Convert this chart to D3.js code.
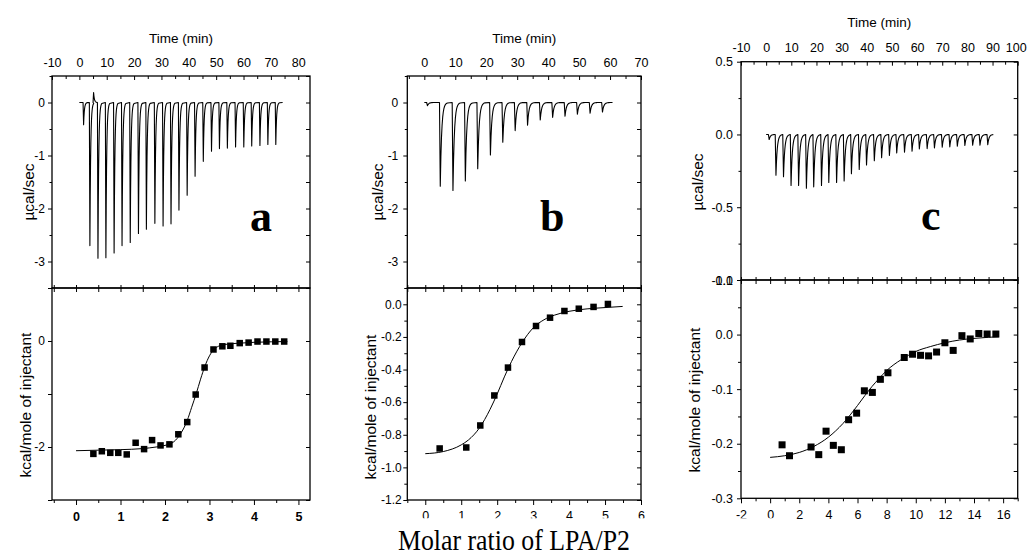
<!DOCTYPE html>
<html><head><meta charset="utf-8">
<script src="https://cdn.jsdelivr.net/npm/d3@7"></script>
<style>
body{margin:0;background:#fff}
svg{display:block}
</style></head><body>
<svg id="chart" width="1027" height="558"></svg>
<script>
// ================= DATA =================
// Panel a – raw ITC trace: injection times (min) and peak heights (µcal/sec)
const aTraceRange = [0, 74.3];
const aInjTime = [1.35, 3.65, 5.0, 6.6, 9.5, 12.5, 15.4, 18.4, 21.4, 24.3, 27.4, 30.4, 33.3, 36.2, 39.2, 42.1, 45.1, 48.1, 51.0, 53.9, 56.9, 59.9, 62.8, 65.8, 68.7, 71.6];
const aInjPeak = [-0.42, -2.70, 0.19, -2.94, -2.93, -2.84, -2.70, -2.64, -2.47, -2.39, -2.28, -2.33, -2.29, -2.03, -1.75, -1.39, -1.11, -0.92, -0.87, -0.86, -0.84, -0.84, -0.82, -0.81, -0.79, -0.79];
// Panel a – integrated heats
const aRatio = [0.39, 0.58, 0.77, 0.95, 1.14, 1.34, 1.53, 1.71, 1.90, 2.10, 2.30, 2.50, 2.69, 2.89, 3.09, 3.29, 3.47, 3.68, 3.88, 4.08, 4.28, 4.48, 4.68];
const aHeat  = [-2.13, -2.08, -2.11, -2.11, -2.14, -1.92, -2.04, -1.87, -1.97, -1.95, -1.76, -1.53, -1.01, -0.50, -0.16, -0.10, -0.09, -0.04, -0.03, -0.01, -0.01, -0.01, -0.01];
const aFitX  = [0.0, 0.5, 1.0, 1.5, 1.8, 2.0, 2.2, 2.35, 2.5, 2.6, 2.7, 2.8, 2.9, 3.0, 3.1, 3.2, 3.4, 3.7, 4.0, 4.4, 4.75];
const aFitY  = [-2.07, -2.06, -2.05, -2.03, -2.0, -1.97, -1.9, -1.75, -1.5, -1.25, -1.0, -0.72, -0.47, -0.28, -0.16, -0.1, -0.06, -0.04, -0.025, -0.015, -0.01];

// Panel b
const bTraceRange = [0, 60.8];
const bInjTime = [0.75, 4.9, 9.0, 13.0, 17.0, 21.1, 25.1, 29.1, 33.1, 37.2, 41.2, 45.2, 49.2, 53.3, 57.3];
const bInjPeak = [-0.06, -1.58, -1.66, -1.48, -1.25, -0.99, -0.75, -0.53, -0.43, -0.33, -0.28, -0.26, -0.22, -0.20, -0.18];
const bRatio = [0.40, 1.14, 1.53, 1.92, 2.30, 2.69, 3.08, 3.47, 3.87, 4.27, 4.68, 5.08];
const bHeat  = [-0.884, -0.878, -0.743, -0.559, -0.388, -0.231, -0.133, -0.082, -0.041, -0.027, -0.016, 0.002];
const bFitX  = [0, 0.5, 1.0, 1.2, 1.5, 1.8, 2.0, 2.2, 2.4, 2.7, 3.0, 3.3, 3.6, 4.0, 4.5, 5.0, 5.49];
const bFitY  = [-0.916, -0.903, -0.862, -0.832, -0.76, -0.645, -0.55, -0.445, -0.35, -0.232, -0.145, -0.095, -0.066, -0.043, -0.028, -0.02, -0.013];

// Panel c
const cTraceRange = [0, 90.3];
const cInjTime = [0.9, 3.6, 6.6, 9.6, 12.6, 15.7, 18.6, 21.7, 24.6, 27.7, 30.7, 33.6, 36.7, 39.6, 42.7, 45.6, 48.7, 51.6, 54.7, 57.7, 60.6, 63.7, 66.6, 69.7, 72.7, 75.7, 78.7, 81.8, 84.7, 87.8];
const cInjPeak = [-0.035, -0.28, -0.29, -0.35, -0.35, -0.37, -0.36, -0.35, -0.33, -0.33, -0.32, -0.27, -0.24, -0.21, -0.18, -0.16, -0.145, -0.127, -0.122, -0.115, -0.10, -0.097, -0.092, -0.088, -0.085, -0.08, -0.076, -0.074, -0.074, -0.07];
const cRatio = [0.82, 1.33, 2.81, 3.34, 3.84, 4.34, 4.89, 5.39, 5.94, 6.47, 7.02, 7.57, 8.09, 9.21, 9.78, 10.33, 10.88, 11.43, 12.0, 12.57, 13.17, 13.74, 14.33, 14.9, 15.5];
const cHeat  = [-0.202, -0.222, -0.206, -0.220, -0.177, -0.203, -0.211, -0.156, -0.144, -0.103, -0.106, -0.082, -0.070, -0.042, -0.036, -0.038, -0.039, -0.032, -0.015, -0.029, -0.002, -0.008, 0.002, 0.001, 0.001];
const cFitX  = [0, 1, 2, 3, 4, 5, 6, 6.5, 7, 7.5, 8, 8.5, 9, 9.5, 10, 11, 12, 13, 14, 15, 15.7];
const cFitY  = [-0.225, -0.222, -0.216, -0.205, -0.188, -0.163, -0.13, -0.112, -0.095, -0.08, -0.066, -0.055, -0.046, -0.038, -0.031, -0.022, -0.015, -0.01, -0.007, -0.005, -0.004];

// Tick labels
const aTimeTicks  = [-10, 0, 10, 20, 30, 40, 50, 60, 70, 80];
const aRawTicks   = [0, -1, -2, -3];
const aRatioTicks = [0, 1, 2, 3, 4, 5];
const aHeatTicks  = [0, -2];
const bTimeTicks  = [0, 10, 20, 30, 40, 50, 60, 70];
const bRawTicks   = [0, -1, -2, -3];
const bRatioTicks = [0, 1, 2, 3, 4, 5, 6];
const bHeatTicks  = [0, -0.2, -0.4, -0.6, -0.8, -1.0, -1.2];
const cTimeTicks  = [-10, 0, 10, 20, 30, 40, 50, 60, 70, 80, 90, 100];
const cRawTicks   = [0.5, 0.0, -0.5, -1.0];
const cRatioTicks = [-2, 0, 2, 4, 6, 8, 10, 12, 14, 16];
const cHeatTicks  = [0.1, 0.0, -0.1, -0.2, -0.3];

const panelLetters = ["a", "b", "c"];
const timeTitle = "Time (min)";
const rawTitle = "\u00b5cal/sec";
const heatTitle = "kcal/mole of injectant";
const xTitle = "Molar ratio of LPA/P2";

// ================= DRAWING =================
const svg = d3.select("#chart");
const NARROW = "'Liberation Sans Narrow','Arial Narrow','Liberation Sans',Arial,sans-serif";
const SANS = "'Liberation Sans',Arial,Helvetica,sans-serif";
const SERIF = "'Liberation Serif','Times New Roman',Times,serif";

const fInt = d => String(d).replace("\u2212", "-");
const f1 = d => d3.format(".1f")(d).replace("\u2212", "-");

const defs = svg.append("defs");
defs.append("clipPath").attr("id", "cutB").append("rect")
  .attr("x", 380).attr("y", 0).attr("width", 280).attr("height", 518.3);
defs.append("clipPath").attr("id", "cutC").append("path")
  .attr("d", "M700,0 H1027 V558 H792 V518.3 H700 Z");

// build a trace (time, signal) from injection times/peaks; spike shape is a style
function buildTrace(range, times, peaks, fall, tau, len) {
  const pts = [[range[0], 0]];
  times.forEach((t, i) => {
    const p = peaks[i];
    pts.push([t, 0]);
    pts.push([t + fall, p]);
    const n = 12;
    for (let k = 1; k <= n; k++) {
      const dt = k * (len - fall) / n;
      pts.push([t + fall + dt, p * Math.exp(-dt / tau)]);
    }
  });
  pts.push([range[1], 0]);
  return pts;
}

function styleAxis(sel, font, size, weight) {
  sel.select(".domain").remove();
  sel.attr("font-family", font).attr("font-size", size).attr("font-weight", weight || "normal");
  sel.selectAll("line").attr("stroke", "#000").attr("stroke-width", 1);
}

function minorVals(domain, step, major) {
  const out = [];
  const lo = Math.ceil(domain[0] / step - 1e-9), hi = Math.floor(domain[1] / step + 1e-9);
  for (let k = lo; k <= hi; k++) {
    const v = +(k * step).toFixed(6);
    if (!major.some(m => Math.abs(m - v) < 1e-9)) out.push(v);
  }
  return out;
}

function drawPanel(c) {
  const g = svg.append("g");
  const xt = d3.scaleLinear().domain(c.tDom).range([c.L, c.R]);
  const yr = d3.scaleLinear().domain(c.rDom).range([c.M, c.T]);
  const xm = d3.scaleLinear().domain(c.mDom).range([c.L, c.R]);
  const yh = d3.scaleLinear().domain(c.hDom).range([c.B, c.M]);

  const tMinor = minorVals(c.tDom, c.tStep, c.tTicks);
  const rMinor = minorVals(c.rDom, c.rStep, c.rTicks);
  const rAll = minorVals(c.rDom, c.rStep, []);
  const mMinor = minorVals(c.mDom, c.mStep, c.mTicks);
  const mAll = minorVals(c.mDom, c.mStep, []);
  const hMinor = minorVals(c.hDom, c.hStep, c.hTicks);
  const hAll = minorVals(c.hDom, c.hStep, []);

  // ---- top (raw) panel axes ----
  const topAx = g.append("g").attr("transform", `translate(0,${c.T})`)
    .call(d3.axisTop(xt).tickValues(c.tTicks).tickSize(-4).tickPadding(c.tPad).tickFormat(fInt))
    .call(s => styleAxis(s, NARROW, c.tickFont, "normal"));
  // keep the last label inside the picture
  topAx.selectAll("text").filter(d => xt(d) > 1010).attr("dx", -2);
  g.append("g").attr("transform", `translate(0,${c.T})`)
    .call(d3.axisTop(xt).tickValues(tMinor).tickSize(-3).tickFormat(""))
    .call(s => styleAxis(s, NARROW, c.tickFont));
  g.append("g").attr("transform", `translate(${c.L},0)`)
    .call(d3.axisLeft(yr).tickValues(c.rTicks).tickSize(4).tickPadding(c.yPadR).tickFormat(c.rFmt))
    .call(s => styleAxis(s, SANS, c.yFont));
  g.append("g").attr("transform", `translate(${c.L},0)`)
    .call(d3.axisLeft(yr).tickValues(rMinor).tickSize(2.5).tickFormat(""))
    .call(s => styleAxis(s, SANS, c.yFont));
  g.append("g").attr("transform", `translate(${c.R},0)`)
    .call(d3.axisRight(yr).tickValues(rAll).tickSize(-4).tickFormat(""))
    .call(s => styleAxis(s, SANS, c.yFont));

  // ---- bottom (heat) panel axes ----
  g.append("g").attr("transform", `translate(0,${c.M})`)
    .call(d3.axisBottom(xm).tickValues(mAll).tickSize(4).tickFormat(""))
    .call(s => styleAxis(s, SANS, 10));
  g.append("g").attr("transform", `translate(0,${c.M})`)
    .call(d3.axisTop(xm).tickValues(mAll).tickSize(3).tickFormat(""))
    .call(s => styleAxis(s, SANS, 10));
  const bAx = g.append("g").attr("clip-path", c.clip ? `url(#${c.clip})` : null)
    .append("g").attr("transform", `translate(0,${c.B})`);
  bAx.call(d3.axisBottom(xm).tickValues(c.mTicks).tickSize(5).tickPadding(c.mPad).tickFormat(fInt))
    .call(s => styleAxis(s, NARROW, c.tickFont, c.mBold ? "bold" : "normal"));
  g.append("g").attr("transform", `translate(0,${c.B})`)
    .call(d3.axisBottom(xm).tickValues(mMinor).tickSize(3).tickFormat(""))
    .call(s => styleAxis(s, SANS, 10));
  g.append("g").attr("transform", `translate(${c.L},0)`)
    .call(d3.axisLeft(yh).tickValues(c.hTicks).tickSize(4).tickPadding(c.yPadH).tickFormat(c.hFmt))
    .call(s => styleAxis(s, SANS, c.yFont));
  g.append("g").attr("transform", `translate(${c.L},0)`)
    .call(d3.axisLeft(yh).tickValues(hMinor).tickSize(c.hMinorLen).tickFormat(""))
    .call(s => styleAxis(s, SANS, c.yFont));
  g.append("g").attr("transform", `translate(${c.R},0)`)
    .call(d3.axisRight(yh).tickValues(hAll).tickSize(-4).tickFormat(""))
    .call(s => styleAxis(s, SANS, c.yFont));

  // ---- frames ----
  g.append("rect").attr("x", c.L).attr("y", c.T).attr("width", c.R - c.L).attr("height", c.M - c.T)
    .attr("fill", "none").attr("stroke", "#000").attr("stroke-width", 1.3);
  g.append("rect").attr("x", c.L).attr("y", c.M).attr("width", c.R - c.L).attr("height", c.B - c.M)
    .attr("fill", "none").attr("stroke", "#000").attr("stroke-width", 1.3);

  // ---- raw trace ----
  const pts = buildTrace(c.trRange, c.injT, c.injP, c.fall, c.tau, c.len);
  g.append("path").datum(pts)
    .attr("d", d3.line().x(d => xt(d[0])).y(d => yr(d[1])))
    .attr("fill", "none").attr("stroke", "#000").attr("stroke-width", 1.1).attr("stroke-linejoin", "round");

  // ---- fit curve ----
  g.append("path").datum(d3.zip(c.fitX, c.fitY))
    .attr("d", d3.line().curve(d3.curveMonotoneX).x(d => xm(d[0])).y(d => yh(d[1])))
    .attr("fill", "none").attr("stroke", "#000").attr("stroke-width", 1);

  // ---- data squares ----
  const s = c.sq;
  g.append("g").selectAll("rect").data(d3.zip(c.ratio, c.heat)).join("rect")
    .attr("x", d => xm(d[0]) - s / 2).attr("y", d => yh(d[1]) - s / 2)
    .attr("width", s).attr("height", s).attr("fill", "#000");

  // ---- titles ----
  g.append("text").attr("x", (c.L + c.R) / 2).attr("y", c.timeY)
    .attr("text-anchor", "middle").attr("font-family", SANS).attr("font-size", 13.5)
    .text(timeTitle);
  g.append("text").attr("transform", `translate(${c.rawTX},${c.rawTY}) rotate(-90)`)
    .attr("text-anchor", "middle").attr("dominant-baseline", "central")
    .attr("font-family", SANS).attr("font-size", 15.5).text(rawTitle);
  g.append("text").attr("transform", `translate(${c.heatTX},${c.heatTY}) rotate(-90)`)
    .attr("text-anchor", "middle").attr("dominant-baseline", "central")
    .attr("font-family", SANS).attr("font-size", 15.5).text(heatTitle);
  g.append("text").attr("x", c.letX).attr("y", c.letY)
    .attr("font-family", SERIF).attr("font-weight", "bold").attr("font-size", 44)
    .text(c.letter);
}

drawPanel({
  L: 52, R: 310, T: 76, M: 288, B: 500,
  tDom: [-10, 84.3], rDom: [-3.5, 0.5], mDom: [-0.54, 5.26], hDom: [-3, 1],
  tTicks: aTimeTicks, tStep: 5, rTicks: aRawTicks, rStep: 0.5, mTicks: aRatioTicks, mStep: 0.5, hTicks: aHeatTicks, hStep: 1,
  rFmt: fInt, hFmt: fInt, tPad: 8.7, mPad: 7.5, yPadR: 3, yPadH: 3, hMinorLen: 4, mBold: true,
  tickFont: 12.5, yFont: 12,
  trRange: aTraceRange, injT: aInjTime, injP: aInjPeak, fall: 0.2, tau: 0.28, len: 1.6,
  ratio: aRatio, heat: aHeat, fitX: aFitX, fitY: aFitY, sq: 6.5,
  timeY: 42.5, rawTX: 28, rawTY: 192, heatTX: 25, heatTY: 405,
  letter: panelLetters[0], letX: 250, letY: 231
});
drawPanel({
  L: 407.3, R: 641, T: 76, M: 288, B: 500,
  tDom: [-5.5, 70], rDom: [-3.5, 0.5], mDom: [-0.5, 6], hDom: [-1.2, 0.1],
  tTicks: bTimeTicks, tStep: 5, rTicks: bRawTicks, rStep: 0.5, mTicks: bRatioTicks, mStep: 0.5, hTicks: bHeatTicks, hStep: 0.1,
  rFmt: fInt, hFmt: f1, tPad: 8.7, mPad: 6, yPadR: 5, yPadH: 1.5, hMinorLen: 3, mBold: false, clip: "cutB",
  tickFont: 12.5, yFont: 12,
  trRange: bTraceRange, injT: bInjTime, injP: bInjPeak, fall: 0.25, tau: 0.45, len: 2.6,
  ratio: bRatio, heat: bHeat, fitX: bFitX, fitY: bFitY, sq: 6.5,
  timeY: 42.5, rawTX: 377, rawTY: 192, heatTX: 370, heatTY: 407,
  letter: panelLetters[1], letX: 540, letY: 231
});
drawPanel({
  L: 741, R: 1017.7, T: 61.7, M: 280, B: 498.3,
  tDom: [-10, 100], rDom: [-1.0, 0.5], mDom: [-2, 17], hDom: [-0.3, 0.1],
  tTicks: cTimeTicks, tStep: 5, rTicks: cRawTicks, rStep: 0.25, mTicks: cRatioTicks, mStep: 1, hTicks: cHeatTicks, hStep: 0.05,
  rFmt: f1, hFmt: f1, tPad: 10, mPad: 6.5, yPadR: 4, yPadH: 4, hMinorLen: 3, mBold: false, clip: "cutC",
  tickFont: 12.5, yFont: 12.5,
  trRange: cTraceRange, injT: cInjTime, injP: cInjPeak, fall: 0.3, tau: 0.5, len: 2.4,
  ratio: cRatio, heat: cHeat, fitX: cFitX, fitY: cFitY, sq: 7,
  timeY: 26.5, rawTX: 697, rawTY: 182, heatTX: 694, heatTY: 400,
  letter: panelLetters[2], letX: 921, letY: 230
});

svg.append("text").attr("x", 514).attr("y", 550)
  .attr("text-anchor", "middle").attr("font-family", SERIF).attr("font-size", 30)
  .attr("textLength", 232).attr("lengthAdjust", "spacingAndGlyphs")
  .text(xTitle);
</script>
</body></html>
